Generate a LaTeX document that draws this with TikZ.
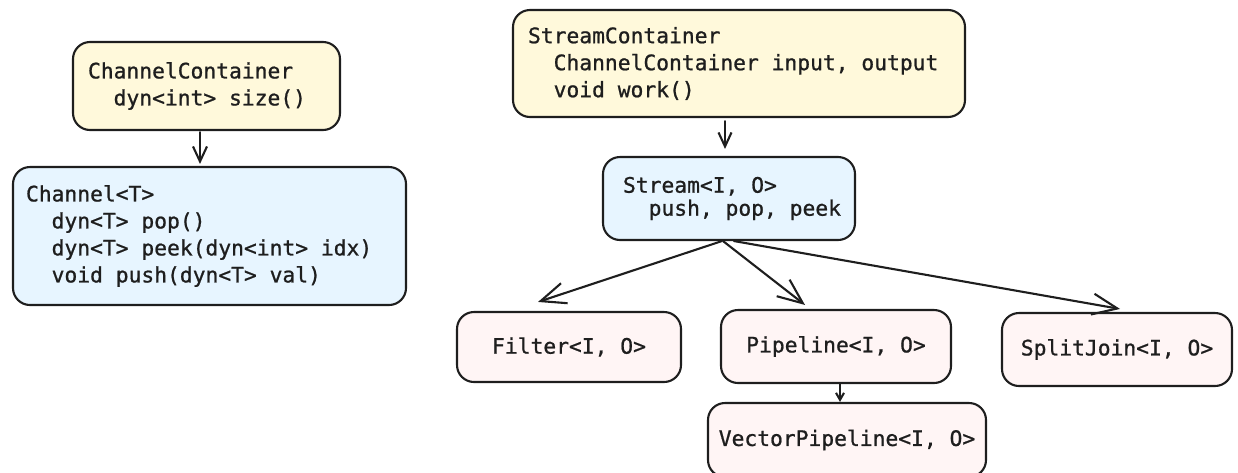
\documentclass[tikz,border=0pt]{standalone}
\usepackage{fontspec}
\newfontfamily\codefont{DejaVu Sans Mono}[FakeBold=0.9]
\usetikzlibrary{arrows.meta}
\definecolor{ink}{HTML}{1E1E1E}
\definecolor{yellowfill}{HTML}{FFF9DB}
\definecolor{bluefill}{HTML}{E7F5FF}
\definecolor{redfill}{HTML}{FFF5F5}
\newcommand\codesize{\codefont\fontsize{21.3}{27}\selectfont}
% one monospaced character cell of blank space
\newcommand\sk{\leavevmode\kern0.6021em\relax}
\begin{document}
\begin{tikzpicture}[x=1pt,y=-1pt,
  box/.style={draw=ink, line width=2.1pt, rounded corners=17pt, text=ink,
    font=\codesize, inner sep=0pt},
  classbox/.style={box, align=left, inner xsep=#1},
  classbox/.default=15pt,
  leafbox/.style={box, fill=redfill, align=center},
  conn/.style={draw=ink, line width=2.1pt, line cap=round},
]
\useasboundingbox (0,0) rectangle (1238,472);
\clip (0,0) rectangle (1238,472);

% left hierarchy
\node[classbox, fill=yellowfill, minimum width=267pt, minimum height=88pt,
      text width=237pt] (cc) at (206.5,86)
  {ChannelContainer\\\sk\sk dyn<int>\sk size()};
\node[classbox=13pt, fill=bluefill, minimum width=393pt, minimum height=138pt,
      text width=367pt] (ch) at (209.5,236)
  {Channel<T>\\
   \sk\sk dyn<T>\sk pop()\\
   \sk\sk dyn<T>\sk peek(dyn<int>\sk idx)\\
   \sk\sk void\sk push(dyn<T>\sk val)};

% right hierarchy
\node[classbox, fill=yellowfill, minimum width=452pt, minimum height=107pt,
      text width=422pt] (sc) at (739,63.5)
  {StreamContainer\\
   \sk\sk ChannelContainer\sk input,\sk output\\
   \sk\sk void\sk work()};
\node[classbox=20pt, fill=bluefill, minimum width=252pt, minimum height=83pt,
      text width=212pt] (st) at (729,198.5)
  {Stream<I,\sk O>\\[-4pt]\sk\sk push,\sk pop,\sk peek};

\node[leafbox, minimum width=224pt, minimum height=70pt] (fi) at (569,347) {Filter<I,\sk O>};
\node[leafbox, minimum width=230pt, minimum height=73pt] (pi) at (836,346.5) {Pipeline<I,\sk O>};
\node[leafbox, minimum width=230pt, minimum height=73pt] (sj) at (1117,349.5) {SplitJoin<I,\sk O>};
\node[leafbox, minimum width=278pt, minimum height=74pt] (vp) at (847,440) {VectorPipeline<I,\sk O>};

% inheritance arrows
\draw[conn, -{Straight Barb[length=15pt,width=14pt]}]
  ([shift={(-6.5,1)}]cc.south) -- ([shift={(-9.5,-2)}]ch.north);
\draw[conn, -{Straight Barb[length=14pt,width=13pt]}]
  ([shift={(-14,3)}]sc.south) -- ([shift={(-4,-7)}]st.north);
\draw[conn, -{Straight Barb[length=25pt,width=21pt]}]
  ([xshift=-7pt]st.south) -- ([shift={(-31,-9)}]fi.north);
\draw[conn, -{Straight Barb[length=25pt,width=21pt]}]
  ([xshift=-6pt]st.south) -- ([shift={(-31,-4)}]pi.north);
\draw[conn, -{Straight Barb[length=25pt,width=21pt]}]
  ([xshift=5pt]st.south) -- ([shift={(3,-3)}]sj.north);
\draw[conn, -{Straight Barb[length=7pt,width=8pt]}]
  ([xshift=4pt]pi.south) -- ([xshift=-7pt]vp.north);
\end{tikzpicture}
\end{document}
